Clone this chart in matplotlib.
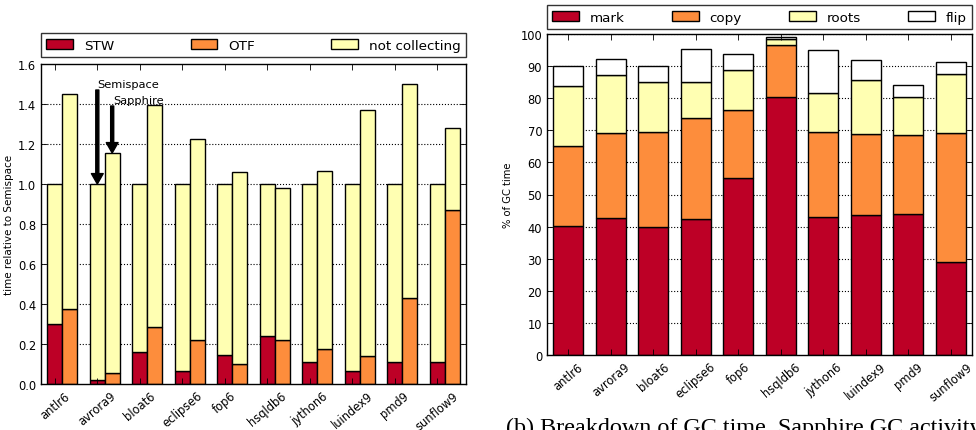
import matplotlib
matplotlib.use("Agg")
import matplotlib.pyplot as plt
import matplotlib.patches as mpatches
import numpy as np

# ---------------- data ----------------
benchmarks = ['antlr6', 'avrora9', 'bloat6', 'eclipse6', 'fop6',
              'hsqldb6', 'jython6', 'luindex9', 'pmd9', 'sunflow9']

# (a) time relative to Semispace
semispace_stw = [0.298, 0.020, 0.162, 0.063, 0.145, 0.238, 0.112, 0.063, 0.108, 0.112]
semispace_total = [1.0, 1.0, 1.0, 1.0, 1.0, 1.0, 1.0, 1.0, 1.0, 1.0]
sapphire_otf = [0.373, 0.057, 0.283, 0.220, 0.102, 0.218, 0.173, 0.142, 0.432, 0.868]
sapphire_total = [1.448, 1.155, 1.393, 1.227, 1.058, 0.980, 1.063, 1.368, 1.498, 1.280]
left_yticks = [0.0, 0.2, 0.4, 0.6, 0.8, 1.0, 1.2, 1.4, 1.6]

# (b) breakdown of GC time (% of GC time)
mark = [40.3, 42.6, 40.0, 42.4, 55.0, 80.5, 43.0, 43.6, 43.9, 29.0]
copy = [24.7, 26.6, 29.4, 31.5, 21.4, 16.0, 26.5, 25.2, 24.7, 40.2]
roots = [18.8, 18.0, 15.6, 11.0, 12.4, 2.0, 12.2, 17.0, 11.8, 18.2]
flip = [6.2, 5.0, 5.0, 10.5, 5.1, 0.5, 13.4, 6.2, 3.7, 3.9]
right_yticks = [0, 10, 20, 30, 40, 50, 60, 70, 80, 90, 100]

caption_b = "(b) Breakdown of GC time, Sapphire GC activity"

# ---------------- style ----------------
RED = '#bd0026'
ORANGE = '#fd8d3c'
YELLOW = '#ffffb2'
WHITE = '#ffffff'

plt.rcParams.update({
    'font.family': ['DejaVu Sans'],
    'xtick.direction': 'in',
    'ytick.direction': 'in',
    'xtick.top': True,
    'ytick.right': True,
    'xtick.major.size': 4,
    'ytick.major.size': 4,
    'xtick.major.width': 0.6,
    'ytick.major.width': 0.6,
    'axes.linewidth': 1.0,
})

TICKFS = 8.3
LEGFS = 9.7

fig = plt.figure(figsize=(9.76, 4.31), dpi=100)
axL = fig.add_axes([41 / 976, 46 / 431, 425 / 976, 320 / 431])
axR = fig.add_axes([547 / 976, 75 / 431, 425 / 976, 321 / 431])

ind = np.arange(len(benchmarks))
edge = dict(edgecolor='black', linewidth=1.0)

# ---------------- left chart ----------------
w = 0.35
x1 = ind + 0.15
x2 = ind + 0.50
semi_stw = np.array(semispace_stw)
semi_nc = np.array(semispace_total) - semi_stw
sap_otf = np.array(sapphire_otf)
sap_nc = np.array(sapphire_total) - sap_otf

axL.bar(x1, semi_stw, w, align='edge', color=RED, **edge)
axL.bar(x1, semi_nc, w, bottom=semi_stw, align='edge', color=YELLOW, **edge)
axL.bar(x2, sap_otf, w, align='edge', color=ORANGE, **edge)
axL.bar(x2, sap_nc, w, bottom=sap_otf, align='edge', color=YELLOW, **edge)

axL.set_xlim(0, len(benchmarks))
axL.set_ylim(0, 1.6)
axL.set_yticks(left_yticks)
axL.set_yticklabels(['%.1f' % v for v in left_yticks], fontsize=TICKFS)
axL.set_xticks(x1 + w / 2)
axL.set_xticklabels(benchmarks, rotation=40, ha='center', fontsize=TICKFS)
axL.set_ylabel('time relative to Semispace', fontsize=7.5, labelpad=3)
for yv in left_yticks[1:-1]:
    axL.axhline(yv, ls=':', color='black', lw=0.8, zorder=0.5)

# annotations
ia = benchmarks.index('avrora9')
xs = x1[ia] + w / 2
xp = x2[ia] + w / 2
arrow = dict(facecolor='black', edgecolor='black', width=2.2, headwidth=8.5,
             headlength=7.5, shrink=0)
axL.annotate('', xy=(xs, semispace_total[ia]), xytext=(xs, 1.47), arrowprops=arrow)
axL.text(xs, 1.485, 'Semispace', fontsize=8.2, ha='left', va='baseline')
axL.annotate('', xy=(xp, sapphire_total[ia]), xytext=(xp, 1.39), arrowprops=arrow)
axL.text(xp + 0.02, 1.405, 'Sapphire', fontsize=8.2, ha='left', va='baseline')

handlesL = [mpatches.Patch(facecolor=c, edgecolor='black', linewidth=1.0)
            for c in (RED, ORANGE, YELLOW)]
legL = axL.legend(handlesL, ['STW', 'OTF', 'not collecting'], loc='lower left',
                  bbox_to_anchor=(0, 1.022, 1, 0.05), mode='expand', ncol=3,
                  borderaxespad=0, fontsize=LEGFS, fancybox=False,
                  handlelength=2.0, frameon=True)
legL.get_frame().set_edgecolor('black')
legL.get_frame().set_linewidth(1.0)

# ---------------- right chart ----------------
wr = 0.7
xr = ind + 0.5
m = np.array(mark)
c = np.array(copy)
r = np.array(roots)
f = np.array(flip)
axR.bar(xr, m, wr, color=RED, **edge)
axR.bar(xr, c, wr, bottom=m, color=ORANGE, **edge)
axR.bar(xr, r, wr, bottom=m + c, color=YELLOW, **edge)
axR.bar(xr, f, wr, bottom=m + c + r, color=WHITE, **edge)

axR.set_xlim(0, len(benchmarks))
axR.set_ylim(0, 100)
axR.set_yticks(right_yticks)
axR.set_yticklabels([str(v) for v in right_yticks], fontsize=TICKFS)
axR.set_xticks(xr)
axR.set_xticklabels(benchmarks, rotation=40, ha='center', fontsize=TICKFS)
axR.set_ylabel('% of GC time', fontsize=7.2, labelpad=5)
for yv in right_yticks[1:]:
    axR.axhline(yv, ls=':', color='black', lw=0.8, zorder=0.5)

handlesR = [mpatches.Patch(facecolor=cc, edgecolor='black', linewidth=1.0)
            for cc in (RED, ORANGE, YELLOW, WHITE)]
legR = axR.legend(handlesR, ['mark', 'copy', 'roots', 'flip'], loc='lower left',
                  bbox_to_anchor=(0, 1.0156, 1, 0.05), mode='expand', ncol=4,
                  borderaxespad=0, fontsize=LEGFS, fancybox=False,
                  handlelength=2.0, frameon=True)
legR.get_frame().set_edgecolor('black')
legR.get_frame().set_linewidth(1.0)

# caption (clipped at bottom and right as in the reference)
fig.text(506 / 976, -3 / 431, caption_b, fontsize=17.4,
         family=['Liberation Serif', 'DejaVu Serif'], ha='left', va='baseline')

fig.savefig('out.png', dpi=100, facecolor='white')
